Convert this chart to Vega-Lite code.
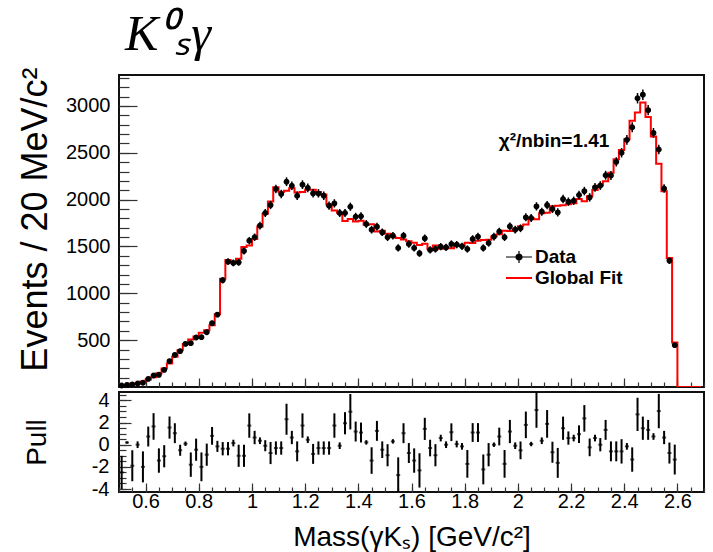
{
  "$schema": "https://vega.github.io/schema/vega-lite/v6.json",
  "padding": {"left": 16, "top": 10, "right": 11, "bottom": 2},
  "title": {"text": "K⁰ₛγ", "font": "Liberation Serif", "fontStyle": "italic", "fontWeight": "normal", "fontSize": 50, "anchor": "start", "frame": "group", "offset": 6, "dx": 6, "color": "black"},
  "data": {"values": [
    {"m":0.51,"n":16,"e":4,"f":18,"p":-2.5,"pe":1.5},
    {"m":0.53,"n":23,"e":4.8,"f":22,"p":0.2,"pe":0.1},
    {"m":0.55,"n":27,"e":5.2,"f":37,"p":-1.9,"pe":1.4},
    {"m":0.57,"n":37,"e":6.1,"f":38,"p":0,"pe":0.3},
    {"m":0.59,"n":45,"e":6.7,"f":58,"p":-2.0,"pe":1.4},
    {"m":0.61,"n":87,"e":9.3,"f":80,"p":0.74,"pe":0.9},
    {"m":0.63,"n":123,"e":11.1,"f":105,"p":1.65,"pe":1.2},
    {"m":0.65,"n":130,"e":11.4,"f":146,"p":-1.43,"pe":1.1},
    {"m":0.67,"n":183,"e":13.5,"f":197,"p":-1.04,"pe":1.0},
    {"m":0.69,"n":276,"e":16.6,"f":250,"p":1.55,"pe":1.0},
    {"m":0.71,"n":343,"e":18.5,"f":324,"p":1.04,"pe":0.9},
    {"m":0.73,"n":383,"e":19.6,"f":393,"p":-0.5,"pe":0.5},
    {"m":0.75,"n":460,"e":21.4,"f":458,"p":0.09,"pe":0.2},
    {"m":0.77,"n":468,"e":21.6,"f":507,"p":-1.8,"pe":1.1},
    {"m":0.79,"n":528,"e":23,"f":538,"p":-0.45,"pe":1.0},
    {"m":0.81,"n":532,"e":23.1,"f":578,"p":-2.0,"pe":1.3},
    {"m":0.83,"n":585,"e":24.2,"f":607,"p":-0.9,"pe":1.0},
    {"m":0.85,"n":681,"e":26.1,"f":660,"p":0.8,"pe":0.8},
    {"m":0.87,"n":773,"e":27.8,"f":777,"p":-0.15,"pe":0.5},
    {"m":0.89,"n":1140,"e":33.8,"f":1155,"p":-0.36,"pe":0.6},
    {"m":0.91,"n":1338,"e":36.6,"f":1355,"p":-0.36,"pe":0.6},
    {"m":0.93,"n":1324,"e":36.4,"f":1325,"p":0.15,"pe":0.3},
    {"m":0.95,"n":1331,"e":36.5,"f":1370,"p":-1.0,"pe":1.0},
    {"m":0.97,"n":1452,"e":38.1,"f":1495,"p":-1.0,"pe":1.0},
    {"m":0.99,"n":1562,"e":39.5,"f":1510,"p":1.73,"pe":1.1},
    {"m":1.01,"n":1598,"e":40,"f":1580,"p":0.65,"pe":0.6},
    {"m":1.03,"n":1722,"e":41.5,"f":1712,"p":0.36,"pe":0.3},
    {"m":1.05,"n":1857,"e":43.1,"f":1850,"p":-0.09,"pe":0.5},
    {"m":1.07,"n":1942,"e":44.1,"f":1980,"p":-0.75,"pe":1.0},
    {"m":1.09,"n":2113,"e":46,"f":2132,"p":-0.3,"pe":0.6},
    {"m":1.11,"n":2060,"e":45.4,"f":2080,"p":-0.3,"pe":0.6},
    {"m":1.13,"n":2191,"e":46.8,"f":2095,"p":2.3,"pe":1.4},
    {"m":1.15,"n":2148,"e":46.3,"f":2122,"p":0.65,"pe":0.6},
    {"m":1.17,"n":2041,"e":45.2,"f":2075,"p":-0.6,"pe":0.9},
    {"m":1.19,"n":2160,"e":46.5,"f":2080,"p":1.73,"pe":1.1},
    {"m":1.21,"n":2125,"e":46.1,"f":2105,"p":0.45,"pe":0.3},
    {"m":1.23,"n":2067,"e":45.5,"f":2105,"p":-0.83,"pe":0.9},
    {"m":1.25,"n":2067,"e":45.5,"f":2081,"p":-0.3,"pe":0.6},
    {"m":1.27,"n":2041,"e":45.2,"f":2055,"p":-0.3,"pe":0.6},
    {"m":1.29,"n":1935,"e":44,"f":1948,"p":-0.3,"pe":0.6},
    {"m":1.31,"n":1960,"e":44.3,"f":1883,"p":1.73,"pe":1.1},
    {"m":1.33,"n":1857,"e":43.1,"f":1861,"p":-0.09,"pe":0.3},
    {"m":1.35,"n":1857,"e":43.1,"f":1773,"p":1.94,"pe":1.0},
    {"m":1.37,"n":1924,"e":43.9,"f":1793,"p":2.98,"pe":1.6},
    {"m":1.39,"n":1817,"e":42.6,"f":1766,"p":1.19,"pe":0.9},
    {"m":1.41,"n":1822,"e":42.7,"f":1775,"p":1.1,"pe":0.9},
    {"m":1.43,"n":1740,"e":41.7,"f":1731,"p":0.21,"pe":0.2},
    {"m":1.45,"n":1679,"e":41,"f":1738,"p":-1.43,"pe":1.2},
    {"m":1.47,"n":1711,"e":41.4,"f":1659,"p":1.25,"pe":0.9},
    {"m":1.49,"n":1651,"e":40.6,"f":1669,"p":-0.45,"pe":0.75},
    {"m":1.51,"n":1598,"e":40,"f":1636,"p":-0.95,"pe":1.0},
    {"m":1.53,"n":1615,"e":40.2,"f":1603,"p":0.3,"pe":0.2},
    {"m":1.55,"n":1484,"e":38.5,"f":1590,"p":-2.74,"pe":1.6},
    {"m":1.57,"n":1615,"e":40.2,"f":1573,"p":1.04,"pe":0.9},
    {"m":1.59,"n":1526,"e":39.1,"f":1555,"p":-0.75,"pe":0.9},
    {"m":1.61,"n":1484,"e":38.5,"f":1539,"p":-1.43,"pe":1.1},
    {"m":1.63,"n":1427,"e":37.8,"f":1515,"p":-2.32,"pe":1.55},
    {"m":1.65,"n":1587,"e":39.8,"f":1530,"p":1.43,"pe":1.0},
    {"m":1.67,"n":1463,"e":38.2,"f":1474,"p":-0.3,"pe":0.75},
    {"m":1.69,"n":1473,"e":38.4,"f":1509,"p":-0.95,"pe":1.0},
    {"m":1.71,"n":1498,"e":38.7,"f":1475,"p":0.6,"pe":0.3},
    {"m":1.73,"n":1491,"e":38.6,"f":1491,"p":0,"pe":0.3},
    {"m":1.75,"n":1526,"e":39.1,"f":1482,"p":1.13,"pe":0.8},
    {"m":1.77,"n":1519,"e":39,"f":1517,"p":0.06,"pe":0.3},
    {"m":1.79,"n":1502,"e":38.8,"f":1508,"p":-0.15,"pe":0.3},
    {"m":1.81,"n":1473,"e":38.4,"f":1539,"p":-1.73,"pe":1.25},
    {"m":1.83,"n":1580,"e":39.7,"f":1536,"p":1.1,"pe":0.85},
    {"m":1.85,"n":1605,"e":40.1,"f":1561,"p":1.1,"pe":0.85},
    {"m":1.87,"n":1484,"e":38.5,"f":1570,"p":-2.23,"pe":1.35},
    {"m":1.89,"n":1537,"e":39.2,"f":1572,"p":-0.9,"pe":1.05},
    {"m":1.91,"n":1605,"e":40.1,"f":1605,"p":0,"pe":0.2},
    {"m":1.93,"n":1660,"e":40.7,"f":1630,"p":0.74,"pe":0.8},
    {"m":1.95,"n":1598,"e":40,"f":1667,"p":-1.73,"pe":1.25},
    {"m":1.97,"n":1715,"e":41.4,"f":1666,"p":1.19,"pe":1.05},
    {"m":1.99,"n":1679,"e":41,"f":1683,"p":-0.09,"pe":0.3},
    {"m":2.01,"n":1694,"e":41.2,"f":1715,"p":-0.51,"pe":0.8},
    {"m":2.03,"n":1811,"e":42.6,"f":1735,"p":1.79,"pe":1.2},
    {"m":2.05,"n":1804,"e":42.5,"f":1801,"p":0.06,"pe":0.2},
    {"m":2.07,"n":1928,"e":43.9,"f":1791,"p":3.13,"pe":1.6},
    {"m":2.09,"n":1871,"e":43.3,"f":1855,"p":0.36,"pe":0.3},
    {"m":2.11,"n":1942,"e":44.1,"f":1859,"p":1.88,"pe":1.25},
    {"m":2.13,"n":1900,"e":43.6,"f":1930,"p":-0.68,"pe":0.95},
    {"m":2.15,"n":1864,"e":43.2,"f":1935,"p":-1.64,"pe":1.35},
    {"m":2.17,"n":2006,"e":44.8,"f":1939,"p":1.49,"pe":1.05},
    {"m":2.19,"n":1978,"e":44.5,"f":1951,"p":0.6,"pe":0.6},
    {"m":2.21,"n":1988,"e":44.6,"f":1961,"p":0.6,"pe":0.3},
    {"m":2.23,"n":2049,"e":45.3,"f":2006,"p":0.95,"pe":0.8},
    {"m":2.25,"n":2091,"e":45.7,"f":1982,"p":2.38,"pe":1.2},
    {"m":2.27,"n":2024,"e":45,"f":2035,"p":-0.24,"pe":0.8},
    {"m":2.29,"n":2130,"e":46.2,"f":2102,"p":0.6,"pe":0.3},
    {"m":2.31,"n":2150,"e":46.4,"f":2150,"p":0,"pe":0.6},
    {"m":2.33,"n":2260,"e":47.5,"f":2196,"p":1.34,"pe":0.9},
    {"m":2.35,"n":2258,"e":47.5,"f":2287,"p":-0.6,"pe":0.9},
    {"m":2.37,"n":2403,"e":49,"f":2432,"p":-0.6,"pe":0.9},
    {"m":2.39,"n":2500,"e":50,"f":2530,"p":-0.6,"pe":1.1},
    {"m":2.41,"n":2637,"e":51.4,"f":2645,"p":-0.15,"pe":0.3},
    {"m":2.43,"n":2772,"e":52.6,"f":2843,"p":-1.34,"pe":1.1},
    {"m":2.45,"n":3082,"e":55.5,"f":2930,"p":2.74,"pe":1.5},
    {"m":2.47,"n":3120,"e":55.9,"f":3037,"p":1.49,"pe":1.05},
    {"m":2.49,"n":2955,"e":54.4,"f":2882,"p":1.34,"pe":0.9},
    {"m":2.51,"n":2712,"e":52.1,"f":2673,"p":0.74,"pe":0.3},
    {"m":2.53,"n":2535,"e":50.3,"f":2382,"p":3.04,"pe":1.55},
    {"m":2.55,"n":2118,"e":46,"f":2088,"p":0.65,"pe":0.6},
    {"m":2.57,"n":1349,"e":36.7,"f":1377,"p":-0.75,"pe":0.95},
    {"m":2.59,"n":447,"e":21.1,"f":475,"p":-1.34,"pe":1.35},
    {"m":2.61,"f":0},
    {"m":2.63,"f":0},
    {"m":2.65,"f":0},
    {"m":2.67,"f":0},
    {"m":2.69,"f":0}
  ]},
  "spacing": -6,
  "vconcat": [
    {
      "width": 585,
      "height": 312,
      "layer": [
        {
          "mark": {"type": "line", "interpolate": "step", "color": "#ff0000", "strokeWidth": 2, "clip": true},
          "encoding": {
            "x": {"field": "m", "type": "quantitative", "scale": {"domain": [0.5, 2.7], "nice": false, "zero": false},
                  "axis": {"orient": "bottom", "values": [0.5,0.55,0.6,0.65,0.7,0.75,0.8,0.85,0.9,0.95,1,1.05,1.1,1.15,1.2,1.25,1.3,1.35,1.4,1.45,1.5,1.55,1.6,1.65,1.7,1.75,1.8,1.85,1.9,1.95,2,2.05,2.1,2.15,2.2,2.25,2.3,2.35,2.4,2.45,2.5,2.55,2.6,2.65,2.7], "labels": false, "title": null, "tickSize": -5}},
            "y": {"field": "f", "type": "quantitative", "scale": {"domain": [0, 3330], "nice": false},
                  "axis": {"orient": "left", "values": [100,200,300,400,500,600,700,800,900,1000,1100,1200,1300,1400,1500,1600,1700,1800,1900,2000,2100,2200,2300,2400,2500,2600,2700,2800,2900,3000,3100,3200,3300], "labels": false, "title": null, "tickSize": -10}},
            "color": {"datum": "Global Fit", "type": "nominal",
              "scale": {"domain": ["Global Fit"], "range": ["#ff0000"]},
              "legend": {"orient": "none", "legendX": 389, "legendY": 192, "title": null,
                "labelFont": "Liberation Sans", "labelFontSize": 19, "labelFontWeight": "bold", "labelColor": "black",
                "symbolType": "M-1.3,0H1.3", "symbolSize": 400, "symbolStrokeWidth": 2, "labelOffset": 5, "padding": 0}
            }
          }
        },
        {
          "transform": [{"filter": "isValid(datum.n)"}],
          "mark": {"type": "errorbar", "ticks": false, "thickness": 1.5, "color": "black"},
          "encoding": {
            "x": {"field": "m", "type": "quantitative", "scale": {"domain": [0.5, 2.7], "nice": false, "zero": false}, "axis": null},
            "y": {"field": "n", "type": "quantitative", "scale": {"domain": [0, 3330], "nice": false}, "axis": null},
            "yError": {"field": "e"}
          }
        },
        {
          "transform": [{"filter": "isValid(datum.n)"}],
          "mark": {"type": "point", "filled": true, "shape": "circle", "size": 22, "stroke": "black", "strokeWidth": 1.2, "opacity": 1},
          "encoding": {
            "x": {"field": "m", "type": "quantitative", "scale": {"domain": [0.5, 2.7], "nice": false, "zero": false},
                  "axis": {"orient": "bottom", "values": [0.6,0.8,1,1.2,1.4,1.6,1.8,2,2.2,2.4,2.6], "labels": false, "title": null, "tickSize": -9}},
            "y": {"field": "n", "type": "quantitative", "scale": {"domain": [0, 3330], "nice": false},
                  "axis": {"orient": "left", "values": [500,1000,1500,2000,2500,3000], "tickSize": -18, "labelPadding": 27, "title": "Events / 20 MeV/c²", "titleFontSize": 36, "titleAnchor": "end", "titleY": -8, "labelExpr": "'' + datum.value", "titlePadding": 11}},
            "color": {"datum": "Data", "type": "nominal",
              "scale": {"domain": ["Data"], "range": ["black"]},
              "legend": {"orient": "none", "legendX": 389, "legendY": 171, "title": null,
                "labelFont": "Liberation Sans", "labelFontSize": 19, "labelFontWeight": "bold", "labelColor": "black",
                "symbolType": "M-1.3,0H1.3M0,-0.6V0.6M0.3,0A0.3,0.3,0,1,1,-0.3,0A0.3,0.3,0,1,1,0.3,0Z", "symbolSize": 400, "symbolStrokeWidth": 1.2, "labelOffset": 5, "padding": 0}
            }
          }
        },
        {
          "data": {"values": [{"label": "χ²/nbin=1.41"}]},
          "mark": {"type": "text", "align": "left", "baseline": "middle", "font": "Liberation Sans", "fontSize": 19, "fontWeight": "bold", "color": "black"},
          "encoding": {
            "text": {"field": "label"},
            "x": {"datum": 1.928, "type": "quantitative", "scale": {"domain": [0.5, 2.7], "nice": false, "zero": false}, "axis": null},
            "y": {"datum": 2630, "type": "quantitative", "scale": {"domain": [0, 3330], "nice": false}, "axis": null}
          }
        }
      ],
      "resolve": {"axis": {"x": "independent", "y": "independent"}, "scale": {"color": "independent"}, "legend": {"color": "independent"}}
    },
    {
      "width": 585,
      "height": 100,
      "transform": [{"filter": "isValid(datum.n)"}],
      "layer": [
        {
          "mark": {"type": "errorbar", "ticks": false, "thickness": 2, "color": "black", "clip": true},
          "encoding": {
            "x": {"field": "m", "type": "quantitative", "scale": {"domain": [0.5, 2.7], "nice": false, "zero": false},
                  "axis": {"orient": "bottom", "values": [0.5,0.55,0.6,0.65,0.7,0.75,0.8,0.85,0.9,0.95,1,1.05,1.1,1.15,1.2,1.25,1.3,1.35,1.4,1.45,1.5,1.55,1.6,1.65,1.7,1.75,1.8,1.85,1.9,1.95,2,2.05,2.1,2.15,2.2,2.25,2.3,2.35,2.4,2.45,2.5,2.55,2.6,2.65,2.7], "labels": false, "title": null, "tickSize": -5}},
            "y": {"field": "p", "type": "quantitative", "scale": {"domain": [-4.27, 4.76], "nice": false, "zero": false},
                  "axis": {"orient": "left", "values": [-4,-3.5,-3,-2.5,-2,-1.5,-1,-0.5,0,0.5,1,1.5,2,2.5,3,3.5,4,4.5], "labels": false, "title": null, "tickSize": -7}},
            "yError": {"field": "pe"}
          }
        },
        {
          "mark": {"type": "tick", "orient": "horizontal", "size": 4, "thickness": 2, "color": "black", "clip": true},
          "encoding": {
            "x": {"field": "m", "type": "quantitative", "scale": {"domain": [0.5, 2.7], "nice": false, "zero": false},
                  "axis": {"orient": "bottom", "values": [0.6,0.8,1,1.2,1.4,1.6,1.8,2,2.2,2.4,2.6], "tickSize": -9, "labelPadding": 8, "labelExpr": "'' + datum.value", "title": "Mass(γKₛ) [GeV/c²]", "titleFontSize": 28, "titlePadding": 12}},
            "y": {"field": "p", "type": "quantitative", "scale": {"domain": [-4.27, 4.76], "nice": false, "zero": false},
                  "axis": {"orient": "left", "values": [-4,-2,0,2,4], "tickSize": -12, "labelPadding": 22, "labelExpr": "'' + datum.value", "title": "Pull", "titleFontSize": 28, "titlePadding": 40}}
          }
        }
      ],
      "resolve": {"axis": {"x": "independent", "y": "independent"}}
    }
  ],
  "config": {
    "view": {"stroke": "#111", "strokeWidth": 2},
    "axis": {"domain": false, "grid": false, "labelFont": "Liberation Sans", "labelFontSize": 20, "labelColor": "black", "titleFont": "Liberation Sans", "titleFontSize": 27, "titleFontWeight": "normal", "titleColor": "black", "tickColor": "#333", "tickWidth": 1.2}
  }
}
